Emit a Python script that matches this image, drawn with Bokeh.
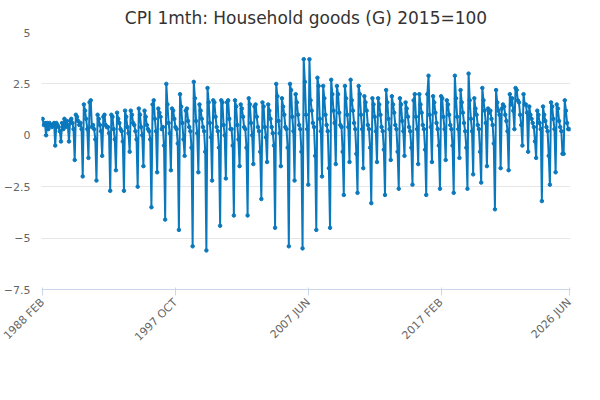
import math
from bokeh.plotting import figure
from bokeh.models import Legend, LegendItem, Label, FixedTicker, Range1d
from bokeh.embed import file_html
from bokeh.resources import INLINE

tick_labels = ["1988 FEB", "1997 OCT", "2007 JUN", "2017 FEB", "2026 JUN"]
y_ticks = [5, 2.5, 0, -2.5, -5, -7.5]

v1988 = [0.8,0.5,0.6,0.0,0.6,0.3,0.6,0.5,0.4,0.5,0.6]
v1989 = [-0.5,0.6,0.5,0.4,0.2,-0.3,0.6,0.3,0.8,0.4,0.7,0.5]
v1990 = [-0.3,0.7,0.8,0.6,0.3,-1.2,1.0,0.9,0.7,0.5,0.6,0.3]
v1991 = [-2.0,1.5,1.2,0.8,0.3,-1.1,1.6,1.7,0.4,0.5,0.3,-0.2]
v1992 = [-2.2,1.0,0.8,0.5,0.2,-1.0,0.9,1.0,0.5,0.4,0.4,0.1]
v1993 = [-2.7,1.0,0.9,0.3,-0.2,-1.7,1.1,0.8,0.6,0.3,0.2,-0.3]
v1994 = [-2.7,1.2,0.9,0.4,0.1,-0.8,1.2,1.0,0.6,0.5,0.2,-0.2]
v1995 = [-2.5,1.3,1.0,0.4,0.0,-1.5,1.2,0.9,0.5,0.3,0.2,-0.2]
v1996 = [-3.5,1.5,1.7,0.8,0.2,-1.8,1.3,1.1,0.9,0.3,0.4,-0.5]
v1997 = [-4.1,2.5,1.5,0.6,0.1,-1.7,1.3,1.2,0.8,0.4,0.3,-0.4]
v1998 = [-4.6,2.0,1.4,0.6,-0.2,-1.0,1.2,1.3,0.7,0.4,0.2,-0.6]
v1999 = [-5.4,2.6,1.8,0.7,0.1,-1.8,1.5,1.2,0.8,0.4,0.2,-0.8]
v2000 = [-5.6,2.3,1.6,0.6,-0.1,-2.2,1.7,1.6,0.9,0.4,0.2,-0.6]
v2001 = [-4.4,1.7,1.6,0.5,0.0,-2.1,1.6,1.7,0.8,0.3,0.3,-0.5]
v2002 = [-3.9,1.7,1.4,0.5,-0.2,-1.5,1.5,1.3,0.9,0.4,0.3,-0.6]
v2003 = [-3.9,1.8,1.5,0.6,0.0,-1.4,1.4,1.5,0.9,0.4,0.2,-0.8]
v2004 = [-3.1,1.6,1.4,0.4,-0.1,-1.3,1.5,1.2,0.8,0.4,0.1,-0.5]
v2005 = [-4.5,2.5,1.9,0.7,0.1,-1.5,1.8,1.4,1.0,0.4,0.3,-0.6]
v2006 = [-5.4,2.5,2.2,0.9,0.2,-2.2,2.0,1.6,1.0,0.5,0.3,-0.8]
v2007 = [-5.5,3.7,2.6,1.0,0.3,-2.4,3.7,1.7,1.2,0.6,0.4,-1.0]
v2008 = [-4.6,2.8,2.4,0.8,0.2,-2.0,2.4,1.8,1.0,0.5,0.2,-1.6]
v2009 = [-4.5,2.7,2.0,1.2,0.6,-1.4,2.4,2.0,1.1,0.5,0.4,-0.8]
v2010 = [-2.9,2.4,1.8,1.0,0.4,-1.3,2.7,1.7,1.2,0.6,0.3,-0.9]
v2011 = [-2.8,2.4,2.0,1.0,0.3,-1.6,1.9,1.6,1.2,0.5,0.3,-0.6]
v2012 = [-3.3,1.8,1.5,0.9,0.2,-1.3,1.8,1.5,1.0,0.4,0.2,-0.7]
v2013 = [-2.9,2.2,1.6,0.8,0.3,-1.2,1.9,1.5,1.1,0.5,0.3,-0.8]
v2014 = [-2.6,1.8,1.5,0.7,0.2,-1.0,1.6,1.3,0.9,0.4,0.2,-0.6]
v2015 = [-2.4,1.7,2.0,0.9,0.3,-1.4,2.0,1.5,1.1,0.5,0.3,-0.7]
v2016 = [-2.9,2.0,2.9,1.0,0.4,-1.3,1.9,1.6,1.1,0.6,0.3,-0.5]
v2017 = [-2.6,1.9,1.8,0.9,0.3,-1.2,1.7,1.5,1.0,0.5,0.3,-0.5]
v2018 = [-2.8,2.9,1.8,0.9,0.3,-1.1,2.2,1.6,1.1,0.6,0.2,-0.6]
v2019 = [-2.6,3.0,1.7,0.8,0.2,-1.9,1.8,1.3,1.0,0.5,0.3,-0.8]
v2020 = [-2.3,2.3,1.7,1.2,0.6,-1.5,1.3,1.1,1.2,0.8,0.5,-0.4]
v2021 = [-3.6,2.2,1.6,1.2,1.0,-1.6,1.3,1.5,1.4,1.0,0.7,0.2]
v2022 = [-1.7,2.0,1.5,1.8,1.2,0.3,2.3,2.2,1.7,1.6,1.0,0.5]
v2023 = [-0.5,2.0,1.5,1.5,1.1,-0.8,1.4,1.0,0.8,0.6,0.4,-0.3]
v2024 = [-1.1,1.2,1.0,0.6,0.3,-3.2,1.4,1.0,0.7,0.4,0.2,-1.0]
v2025 = [-2.4,1.6,1.4,0.8,0.3,-1.8,1.5,1.3,0.7,0.4,0.2,-0.9]
v2026 = [-0.9,1.7,1.2,0.6,0.3,0.3]

years = [v1988,v1989,v1990,v1991,v1992,v1993,v1994,v1995,v1996,v1997,v1998,v1999,
         v2000,v2001,v2002,v2003,v2004,v2005,v2006,v2007,v2008,v2009,v2010,v2011,
         v2012,v2013,v2014,v2015,v2016,v2017,v2018,v2019,v2020,v2021,v2022,v2023,
         v2024,v2025,v2026]
values = [v for y in years for v in y]
x = list(range(len(values)))

months = ["JAN","FEB","MAR","APR","MAY","JUN","JUL","AUG","SEP","OCT","NOV","DEC"]
labels = []
for i in x:
    m = i + 1  # index 0 = 1988 FEB
    labels.append(f"{1988 + m // 12} {months[m % 12]}")
tick_pos = [labels.index(t) for t in tick_labels]

color = "#0a78bd"
p = figure(width=584, height=384, output_backend="svg", toolbar_location=None,
           x_range=Range1d(-1, len(values)), y_range=Range1d(-7.5, 5),
           min_border_left=10, min_border_right=14, min_border_bottom=95)
p.title.text = "CPI 1mth: Household goods (G) 2015=100"
p.title.align = "center"
p.title.text_font = "DejaVu Sans"
p.title.text_font_size = "17px"
p.title.text_font_style = "normal"
p.title.text_color = "#333333"

r1 = p.line(x, values, color=color, line_width=2)
r2 = p.scatter(x, values, color=color, size=3.5)

p.xaxis.ticker = FixedTicker(ticks=tick_pos)
p.xaxis.major_label_overrides = {pos: lab for pos, lab in zip(tick_pos, tick_labels)}
p.xaxis.major_label_orientation = math.pi / 4
p.yaxis.ticker = FixedTicker(ticks=y_ticks)
for ax in (p.xaxis, p.yaxis):
    ax.major_label_text_color = "#666666"
    ax.major_label_text_font = "DejaVu Sans"
    ax.major_label_text_font_size = "11px"
p.yaxis.axis_line_color = None
p.yaxis.major_tick_line_color = None
p.yaxis.minor_tick_line_color = None
p.xaxis.minor_tick_line_color = None
p.xaxis.axis_line_color = "#ccd6eb"
p.xaxis.major_tick_line_color = "#ccd6eb"
p.xgrid.grid_line_color = None
p.ygrid.grid_line_color = "#e6e6e6"
p.outline_line_color = None

legend = Legend(items=[LegendItem(label="CPI 1mth: Household goods (G) 2015=100", renderers=[r1, r2])],
                orientation="horizontal", location=(85, -90), border_line_color=None,
                background_fill_alpha=0,
                label_text_font="DejaVu Sans", label_text_font_size="12px",
                label_text_font_style="bold", label_text_color="#333333")
p.add_layout(legend)
src = Label(x=540, y=-105, x_units="screen", y_units="screen", text="Source:",
            text_align="right", text_font="DejaVu Sans", text_font_size="12px",
            text_color="#666666")
p.add_layout(src)

open("out.html", "w").write(file_html(p, INLINE))
